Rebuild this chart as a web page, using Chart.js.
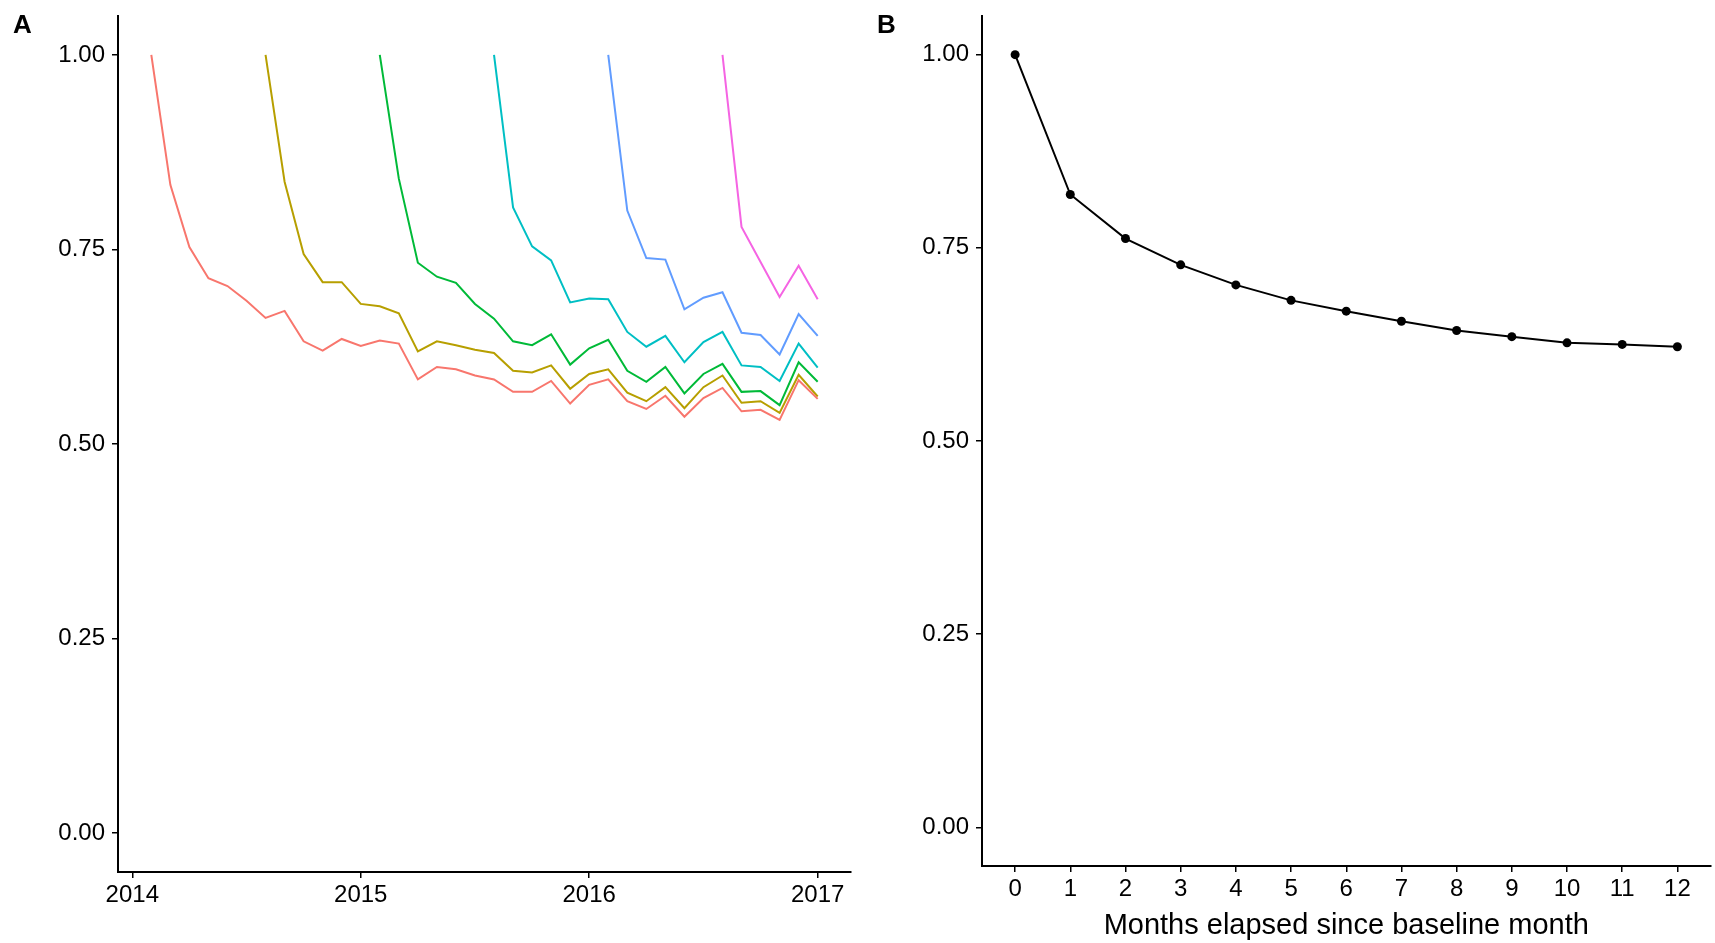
<!DOCTYPE html>
<html>
<head>
<meta charset="utf-8">
<script src="https://cdn.jsdelivr.net/npm/chart.js@4.4.0/dist/chart.umd.min.js"></script>
<style>
  body { margin: 0; background: #fff; width: 1715px; height: 943px; position: relative; overflow: hidden; font-family: "Liberation Sans", Arial, sans-serif; }
  canvas { position: absolute; top: 0; }
  #graph-a { left: 0; }
  #graph-b { left: 857px; }
  .tag { position: absolute; top: 11px; font-size: 26px; font-weight: bold; line-height: 26px; color: #000; }
</style>
</head>
<body>
<canvas id="graph-a" width="857" height="943"></canvas>
<canvas id="graph-b" width="858" height="943"></canvas>
<div class="tag" style="left:13px">A</div>
<div class="tag" style="left:877px">B</div>
<script>
// ==================== data ===================

// panel A : one line per cohort, starting month counted from Jan 2014
const yearLabels = ["2014", "2015", "2016", "2017"];
const yTicks = [0, 0.25, 0.5, 0.75, 1];
const cohortStart = [1, 7, 13, 19, 25, 31];
const cohortColors = ["#F8766D", "#B79F00", "#00BA38", "#00BFC4", "#619CFF", "#F564E3"];

const cohortFeb2014 = [1.00, 0.833, 0.753, 0.713, 0.703, 0.684, 0.662, 0.671, 0.632, 0.620, 0.635, 0.626,
  0.633, 0.629, 0.583, 0.599, 0.596, 0.588, 0.583, 0.567, 0.567, 0.581, 0.552, 0.576,
  0.583, 0.555, 0.545, 0.562, 0.535, 0.559, 0.572, 0.542, 0.544, 0.531, 0.582, 0.558];
const cohortAug2014 = [1.00, 0.837, 0.744, 0.708, 0.708, 0.680, 0.677, 0.668, 0.619, 0.632, 0.627, 0.621,
  0.617, 0.594, 0.592, 0.601, 0.571, 0.590, 0.596, 0.566, 0.555, 0.573, 0.546, 0.573,
  0.588, 0.553, 0.555, 0.540, 0.589, 0.561];
const cohortFeb2015 = [1.00, 0.841, 0.733, 0.715, 0.707, 0.680, 0.661, 0.632, 0.627, 0.641, 0.602, 0.623,
  0.634, 0.594, 0.580, 0.599, 0.565, 0.590, 0.603, 0.567, 0.568, 0.550, 0.605, 0.580];
const cohortAug2015 = [1.00, 0.804, 0.754, 0.736, 0.682, 0.687, 0.686, 0.644, 0.625, 0.639, 0.605, 0.631,
  0.644, 0.601, 0.599, 0.581, 0.629, 0.598];
const cohortFeb2016 = [1.00, 0.800, 0.739, 0.737, 0.673, 0.688, 0.695, 0.643, 0.640, 0.615, 0.667, 0.639];
const cohortAug2016 = [1.00, 0.779, 0.734, 0.689, 0.729, 0.686];

const cohorts = [cohortFeb2014, cohortAug2014, cohortFeb2015, cohortAug2015, cohortFeb2016, cohortAug2016];

// panel B : average over months elapsed
const monthsElapsed = [0, 1, 2, 3, 4, 5, 6, 7, 8, 9, 10, 11, 12];
const meanRetention = [1.00, 0.819, 0.762, 0.728, 0.702, 0.682, 0.668, 0.655, 0.643, 0.635, 0.627, 0.625, 0.622];

// ==================== style commun ===================

const fontFamily = "'Liberation Sans', Arial, Helvetica, sans-serif";

function axis(extra) {
  return Object.assign({
    type: "linear",
    grid: { display: true, drawOnChartArea: false, drawTicks: true, tickLength: 6, color: "#000", lineWidth: 1.5 },
    border: { display: true, color: "#000", width: 2 },
  }, extra);
}

function tickStyle(callback, padding) {
  return {
    color: "#000",
    font: { family: fontFamily, size: 24 },
    padding: padding,
    maxRotation: 0,
    autoSkip: false,
    callback: callback,
  };
}

// fixed axis size, and no extra room asked for half labels
function fixSize(s, size) {
  if (s.isHorizontal()) s.height = size;
  else s.width = size;
  s.paddingTop = 0;
  s.paddingBottom = 0;
  s.paddingLeft = 0;
  s.paddingRight = 0;
}

const yAxis = (width) => axis({
  min: -0.05,
  max: 1.05,
  afterBuildTicks: (s) => { s.ticks = yTicks.map((v) => ({ value: v })); },
  ticks: tickStyle((v) => Number(v).toFixed(2), 7),
  afterFit: (s) => fixSize(s, width),
});

// ==================== graphique A ===================

const graphA = document.getElementById("graph-a").getContext("2d");
new Chart(graphA, {
  type: "line",
  data: {
    datasets: cohorts.map((values, c) => ({
      data: values.map((v, i) => ({ x: cohortStart[c] + i, y: v })),
      borderColor: cohortColors[c],
      borderWidth: 2,
      pointRadius: 0,
      tension: 0,
      fill: false,
    })),
  },
  options: {
    responsive: false,
    animation: false,
    events: [],
    layout: { padding: { top: 16, right: 6, left: 0, bottom: 0 } },
    plugins: { legend: { display: false }, tooltip: { enabled: false } },
    scales: {
      x: axis({
        min: -0.75,
        max: 37.75,
        afterBuildTicks: (s) => { s.ticks = yearLabels.map((y, i) => ({ value: i * 12 })); },
        ticks: tickStyle((v, i) => yearLabels[i], 3),
        afterFit: (s) => fixSize(s, 71),
      }),
      y: yAxis(118),
    },
  },
});

// ==================== graphique B ===================

const graphB = document.getElementById("graph-b").getContext("2d");
new Chart(graphB, {
  type: "line",
  data: {
    datasets: [
      {
        data: monthsElapsed.map((m, i) => ({ x: m, y: meanRetention[i] })),
        borderColor: "#000",
        backgroundColor: "#000",
        borderWidth: 2,
        pointRadius: 4.5,
        pointBackgroundColor: "#000",
        pointBorderWidth: 0,
        tension: 0,
        fill: false,
        clip: false,
      },
    ],
  },
  options: {
    responsive: false,
    animation: false,
    events: [],
    layout: { padding: { top: 16, right: 0, left: 0, bottom: 0 } },
    plugins: { legend: { display: false }, tooltip: { enabled: false } },
    scales: {
      x: axis({
        min: -0.6,
        max: 12.6,
        afterBuildTicks: (s) => { s.ticks = monthsElapsed.map((m) => ({ value: m })); },
        ticks: tickStyle((v) => String(v), 3),
        title: {
          display: true,
          text: "Months elapsed since baseline month",
          color: "#000",
          font: { family: fontFamily, size: 29 },
          padding: { top: 0, bottom: 0 },
        },
        afterFit: (s) => fixSize(s, 77),
      }),
      y: yAxis(125),
    },
  },
});
</script>
</body>
</html>
